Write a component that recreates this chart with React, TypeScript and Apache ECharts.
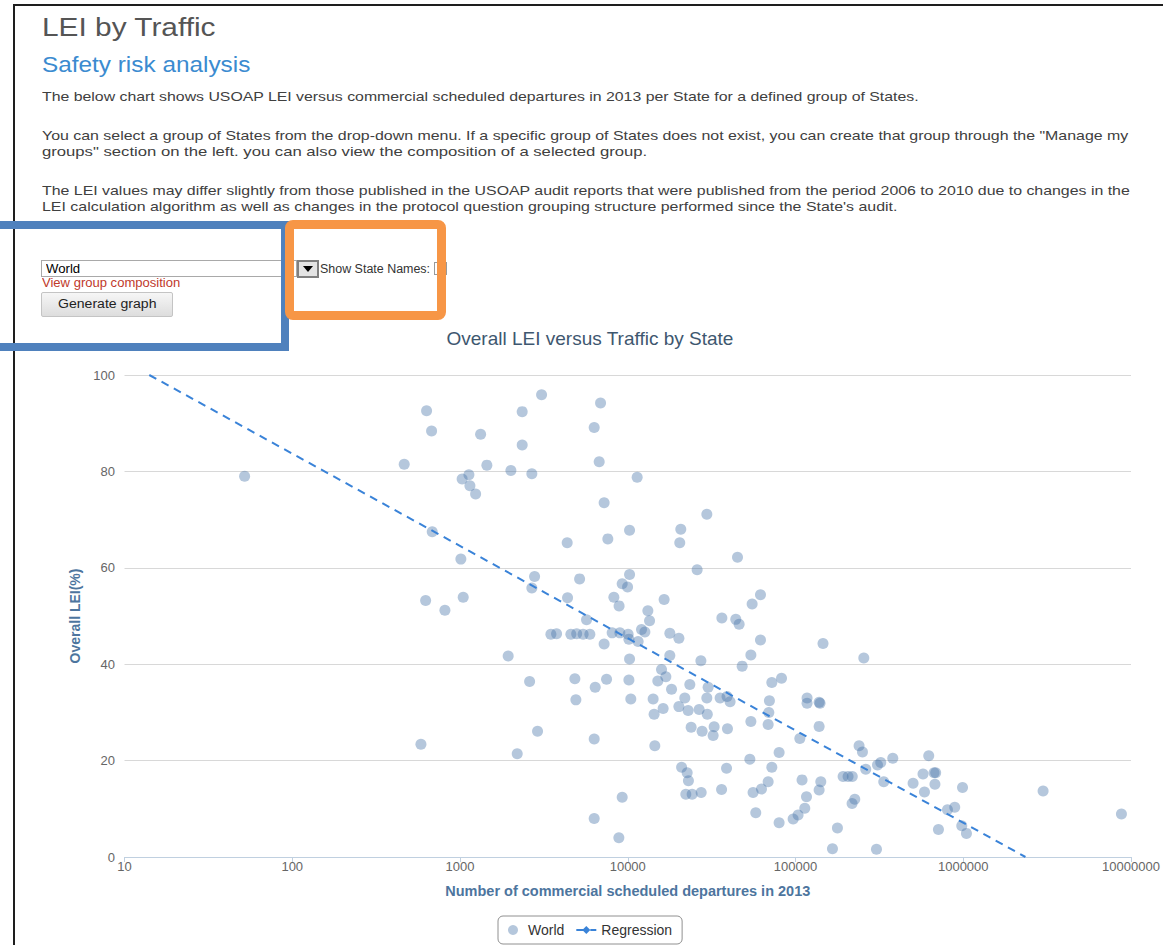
import React, { useEffect, useRef } from "react";
import * as echarts from "echarts";

// ---------- data ----------
const departures = [52, 465, 585, 624, 632, 677, 683, 813, 1030, 1012, 1045, 1130, 1146, 1239, 1327, 1446, 1937, 2011, 2193, 2348, 2348, 2600, 2681, 2681, 2784, 2899, 3064, 3482, 3764, 4355, 4377, 4581, 4839, 4907, 4960, 5164, 5420, 5680, 5945, 6310, 6310, 6310, 6397, 6757, 6885, 7231, 7231, 7476, 7608, 8072, 8265, 8852, 8880, 8974, 9265, 9265, 9975, 10050, 10160, 10160, 10250, 10250, 10250, 10430, 11380, 11530, 12080, 12650, 13180, 13490, 14170, 14360, 14500, 15110, 15900, 16250, 16480, 16870, 17820, 17820, 18240, 20180, 20180, 20420, 20710, 20940, 21880, 22190, 22600, 22910, 23000, 23440, 23870, 24200, 25920, 26640, 27290, 27400, 27750, 29610, 29610, 29800, 30140, 32280, 32730, 35540, 36250, 36400, 38810, 39080, 39300, 40740, 44060, 45110, 46130, 48080, 53440, 54190, 54190, 55140, 55860, 57960, 61830, 61830, 62690, 68710, 68710, 69340, 69900, 72250, 72250, 79850, 79850, 82540, 96820, 103600, 106100, 109400, 113600, 116300, 117200, 117200, 138300, 140000, 138300, 138300, 141500, 145900, 166100, 177800, 192200, 205800, 217400, 218000, 225600, 239300, 250700, 255400, 262300, 303900, 308200, 322300, 335800, 380100, 502300, 575700, 587200, 622700, 669900, 685000, 678000, 711500, 805400, 889600, 979800, 990000, 1045000, 2992000, 8770000];

const leiValues = [79.0, 81.5, 23.4, 53.2, 92.6, 88.4, 67.5, 51.2, 78.4, 61.8, 53.9, 79.3, 77.0, 75.3, 87.7, 81.3, 41.7, 80.2, 21.4, 92.4, 85.5, 36.4, 79.5, 55.8, 58.2, 26.1, 95.9, 46.2, 46.3, 65.2, 53.8, 46.2, 37.0, 32.6, 46.3, 57.7, 46.2, 49.2, 46.2, 89.1, 24.5, 8.0, 35.2, 82.0, 94.2, 73.5, 44.2, 36.9, 66.0, 46.5, 53.9, 4.0, 52.1, 46.5, 56.7, 12.4, 56.0, 46.2, 45.2, 36.7, 67.8, 58.6, 41.1, 32.8, 78.8, 44.7, 47.2, 46.7, 51.1, 49.0, 32.8, 29.6, 23.1, 36.5, 38.9, 30.8, 53.4, 37.4, 46.4, 41.8, 34.8, 45.4, 31.2, 65.2, 68.0, 18.6, 33.0, 13.0, 17.5, 30.4, 15.8, 35.8, 26.9, 13.0, 59.6, 30.6, 40.7, 13.4, 26.1, 71.1, 33.0, 29.6, 35.2, 25.2, 27.0, 33.0, 14.0, 49.6, 18.4, 33.3, 26.6, 32.2, 49.3, 62.2, 48.3, 39.6, 20.3, 41.9, 28.1, 52.5, 13.4, 9.2, 54.4, 45.0, 14.1, 27.5, 15.6, 30.0, 32.4, 36.2, 18.6, 21.7, 7.1, 37.1, 7.9, 8.7, 24.6, 16.0, 10.1, 12.5, 33.0, 31.9, 32.1, 31.9, 27.1, 13.9, 15.6, 44.3, 1.7, 6.0, 16.7, 16.7, 11.1, 16.7, 12.0, 23.1, 21.8, 41.3, 18.2, 1.6, 19.1, 19.6, 15.6, 20.5, 15.3, 17.2, 13.5, 21.0, 17.5, 17.5, 15.1, 5.7, 9.8, 10.3, 6.5, 14.4, 4.9, 13.7, 8.9];

const regressionX = [14.05, 2349000];
const regressionY = [100, 0];

const seriesNames = ["World", "Regression"];
const chartTitle = "Overall LEI versus Traffic by State";
const xAxisTitle = "Number of commercial scheduled departures in 2013";
const yAxisTitle = "Overall LEI(%)";
const yTicks = [0, 20, 40, 60, 80, 100];

const pageTitle = "LEI by Traffic";
const pageSubtitle = "Safety risk analysis";
const paragraphLines = [
  "The below chart shows USOAP LEI versus commercial scheduled departures in 2013 per State for a defined group of States.",
  "You can select a group of States from the drop-down menu. If a specific group of States does not exist, you can create that group through the \"Manage my",
  "groups\" section on the left. you can also view the composition of a selected group.",
  "The LEI values may differ slightly from those published in the USOAP audit reports that were published from the period 2006 to 2010 due to changes in the",
  "LEI calculation algorithm as well as changes in the protocol question grouping structure performed since the State's audit.",
];
const groupName = "World";
const viewLink = "View group composition";
const buttonText = "Generate graph";
const showNames = "Show State Names:";

// ---------- layout helpers ----------
const FONT = '"Liberation Sans", Arial, Helvetica, sans-serif';
const paraBaselines = [101, 140.5, 156.5, 195, 211.5];
const paraWidths = [876, 1086, 605, 1088, 855];

function T(props: any) {
  const { x, base, size, w, color, bold, children } = props;
  return (
    <span
      data-w={w}
      style={{
        position: "absolute",
        left: x,
        top: base - 0.8465 * size,
        fontSize: size,
        lineHeight: size + "px",
        color,
        whiteSpace: "nowrap",
        transformOrigin: "0 0",
        fontWeight: bold ? "bold" : "normal",
        fontFamily: FONT,
      }}
    >
      {children}
    </span>
  );
}

export default function App() {
  const chartRef = useRef<HTMLDivElement>(null);
  const rootRef = useRef<HTMLDivElement>(null);

  useEffect(() => {
    if (rootRef.current) {
      rootRef.current.querySelectorAll("[data-w]").forEach((el: any) => {
        const w = parseFloat(el.getAttribute("data-w"));
        const nat = el.offsetWidth;
        if (nat > 0 && w > 0) el.style.transform = `scaleX(${w / nat})`;
      });
    }
    if (!chartRef.current) return;
    const chart = echarts.init(chartRef.current, undefined, { renderer: "svg" });
    const n = Math.min(departures.length, leiValues.length);
    const scatterData: number[][] = [];
    for (let i = 0; i < n; i++) scatterData.push([departures[i], leiValues[i]]);
    const regData = regressionX.map((v, i) => [v, regressionY[i]]);
    chart.setOption({
      animation: false,
      textStyle: { fontFamily: FONT },
      title: {
        text: chartTitle,
        left: 401.5,
        top: 3,
        padding: 5,
        textStyle: { fontSize: 19, fontWeight: "normal", color: "#3E576F", lineHeight: 20 },
      },
      legend: {
        data: seriesNames,
        top: 596,
        left: 458,
        padding: [7, 10],
        itemGap: 11,
        itemWidth: 20,
        itemHeight: 10,
        borderColor: "#909090",
        borderWidth: 1,
        borderRadius: 5,
        textStyle: { fontSize: 14, color: "#333" },
      },
      grid: { left: 84.5, right: 32, top: 55, bottom: 103, containLabel: false, outerBoundsMode: "none" },
      xAxis: {
        type: "log",
        logBase: 10,
        min: 10,
        max: 10000000,
        splitNumber: 6,
        name: xAxisTitle,
        nameLocation: "middle",
        nameGap: 26,
        nameTextStyle: { fontSize: 14.5, fontWeight: "bold", color: "#4d759e" },
        axisLine: { lineStyle: { color: "#C0D0E0", width: 1 } },
        axisTick: { show: true, length: 5, lineStyle: { color: "#C0D0E0" } },
        axisLabel: { fontSize: 13, color: "#666", margin: 3, hideOverlap: false, formatter: (v: number) => String(Math.round(v)) },
        splitLine: { show: false },
      },
      yAxis: {
        type: "value",
        min: yTicks[0],
        max: yTicks[yTicks.length - 1],
        interval: 20,
        name: yAxisTitle,
        nameLocation: "middle",
        nameGap: 42,
        nameTextStyle: { fontSize: 14, fontWeight: "bold", color: "#4d759e" },
        axisLine: { show: false },
        axisTick: { show: false },
        axisLabel: { fontSize: 13, color: "#666", margin: 9.5 },
        splitLine: { lineStyle: { color: "#D8D8D8", width: 1 } },
      },
      series: [
        {
          name: seriesNames[0],
          type: "scatter",
          data: scatterData,
          symbolSize: 11,
          itemStyle: { color: "rgba(69,114,167,0.5)" },
        },
        {
          name: seriesNames[1],
          type: "line",
          data: regData,
          symbol: "diamond",
          symbolSize: 8,
          showSymbol: false,
          lineStyle: { type: [8, 6], width: 2, color: "#3a83d8" },
          itemStyle: { color: "#3a83d8" },
        },
      ],
    });
    return () => chart.dispose();
  }, []);

  return (
    <div
      ref={rootRef}
      style={{
        position: "absolute",
        left: 0,
        top: 0,
        width: 1163,
        height: 945,
        overflow: "hidden",
        background: "#fff",
        fontFamily: FONT,
      }}
    >
      {/* black page frame */}
      <div style={{ position: "absolute", left: 13, top: 4, width: 1200, height: 1000, borderTop: "2px solid #1e1e1e", borderLeft: "2px solid #1e1e1e" }} />

      <T x={42} base={36.5} size={25} w={173} color="#555">{pageTitle}</T>
      <T x={42} base={72.7} size={22} w={208} color="#3b8bd0">{pageSubtitle}</T>
      {paragraphLines.map((line, i) => (
        <T key={i} x={42} base={paraBaselines[i]} size={13} w={paraWidths[i]} color="#404040">{line}</T>
      ))}

      {/* select box */}
      <div style={{ position: "absolute", left: 41, top: 260, width: 256, height: 17, boxSizing: "border-box", border: "1px solid #a9a9a9", background: "#fff" }} />
      <T x={46} base={273} size={12} w={34} color="#000">{groupName}</T>
      {/* dropdown arrow */}
      <div style={{ position: "absolute", left: 297, top: 260, width: 22, height: 18, boxSizing: "border-box", border: "2px solid #808080", background: "#e4e4e4" }} />
      <div style={{ position: "absolute", left: 303, top: 266, width: 0, height: 0, borderLeft: "5px solid transparent", borderRight: "5px solid transparent", borderTop: "6px solid #000" }} />
      <T x={320} base={273} size={12} w={110} color="#333">{showNames}</T>
      <div style={{ position: "absolute", left: 434, top: 262, width: 13, height: 13, boxSizing: "border-box", border: "1px solid #999", background: "#fff" }} />
      <T x={42} base={287.5} size={12} w={138} color="#c0392b">{viewLink}</T>
      {/* button */}
      <div style={{ position: "absolute", left: 41, top: 292, width: 132, height: 25, boxSizing: "border-box", border: "1px solid #c4c4c4", borderRadius: 2, background: "linear-gradient(#f6f6f6, #dddddd)" }} />
      <T x={58} base={308.5} size={12.5} w={99} color="#222">{buttonText}</T>

      {/* chart */}
      <div ref={chartRef} style={{ position: "absolute", left: 40, top: 320, width: 1123, height: 640, zIndex: 1 }} />

      {/* annotation frames */}
      <div style={{ position: "absolute", left: -20, top: 221, width: 309, height: 130, boxSizing: "border-box", border: "8px solid #4f81bd", zIndex: 2 }} />
      <div style={{ position: "absolute", left: 285, top: 220, width: 161, height: 100, boxSizing: "border-box", border: "9px solid #f79646", borderRadius: 8, zIndex: 3 }} />
    </div>
  );
}
